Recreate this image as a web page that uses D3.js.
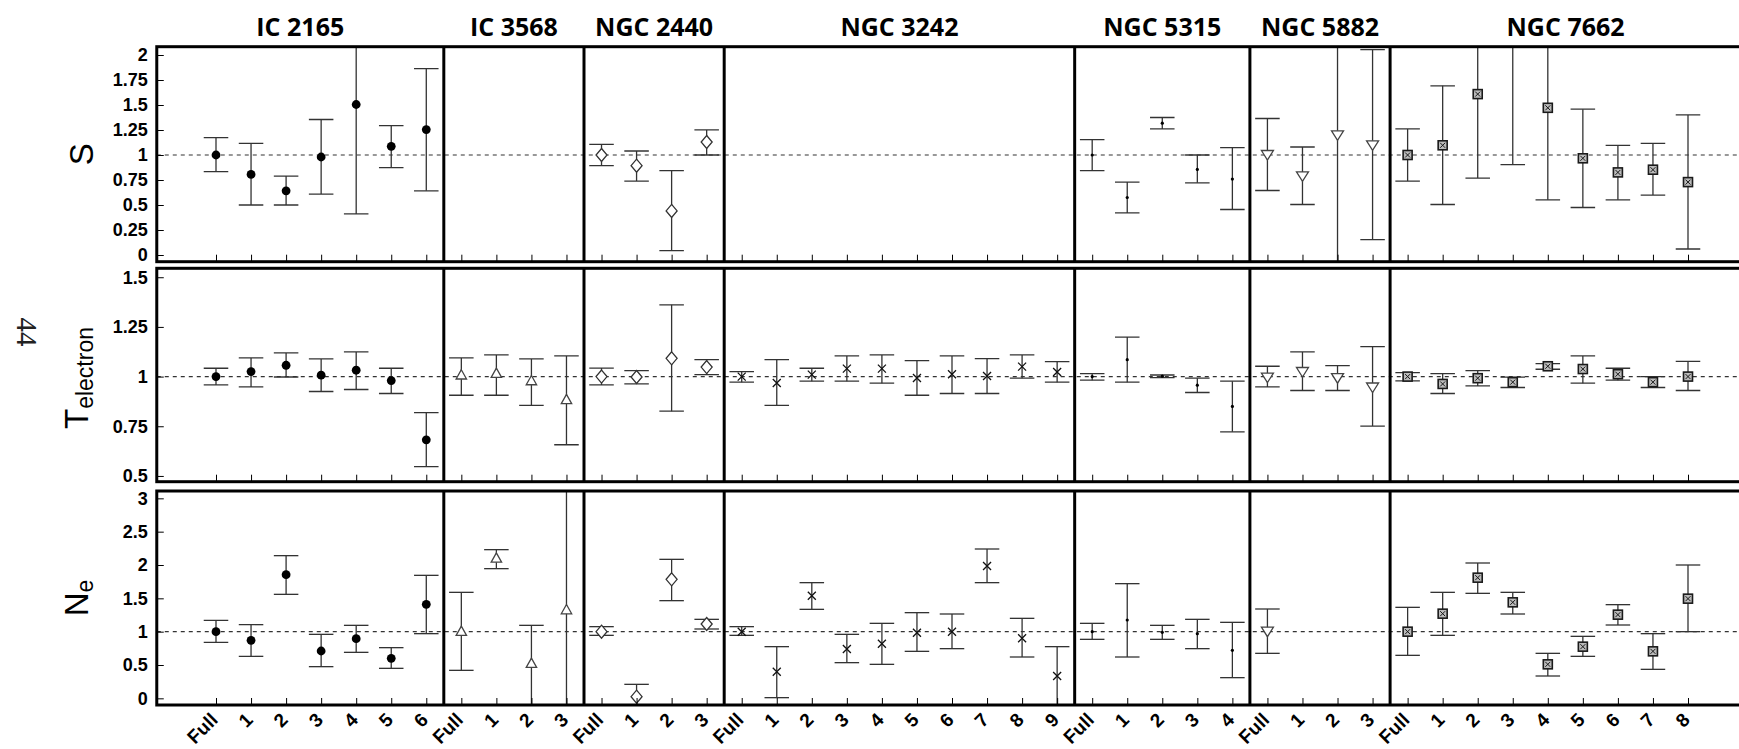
<!DOCTYPE html>
<html>
<head>
<meta charset="utf-8">
<script src="https://cdn.jsdelivr.net/npm/d3@7"></script>
<style>
  body { margin: 0; background: #fff; }
  svg { display: block; }
</style>
</head>
<body>
<div id="chart"></div>
<script>
// nebulae and their segments
var objects = ["IC 2165", "IC 3568", "NGC 2440", "NGC 3242", "NGC 5315", "NGC 5882", "NGC 7662"];
var segments = [
  ["Full", "1", "2", "3", "4", "5", "6"],
  ["Full", "1", "2", "3"],
  ["Full", "1", "2", "3"],
  ["Full", "1", "2", "3", "4", "5", "6", "7", "8", "9"],
  ["Full", "1", "2", "3", "4"],
  ["Full", "1", "2", "3"],
  ["Full", "1", "2", "3", "4", "5", "6", "7", "8"]
];
var markers = ["circle", "triangleUp", "diamond", "cross", "dot", "triangleDown", "boxX"];

// S
var sTicks = [0, 0.25, 0.5, 0.75, 1, 1.25, 1.5, 1.75, 2];
var sVal = [
  [1.0, 0.806, 0.642, 0.98, 1.505, 1.087, 1.254],
  [null, null, null, null],
  [1.0, 0.893, 0.441, 1.13],
  [null, null, null, null, null, null, null, null, null, null],
  [1.0, 0.575, 1.318, 0.856, 0.759],
  [1.0, 0.786, 1.197, 1.097],
  [1.0, 1.097, 1.609, 2.3, 1.472, 0.967, 0.826, 0.853, 0.729]
];
var sLo = [
  [0.833, 0.50, 0.50, 0.609, 0.411, 0.873, 0.642],
  [null, null, null, null],
  [0.893, 0.739, 0.043, 1.0],
  [null, null, null, null, null, null, null, null, null, null],
  [0.843, 0.421, 1.261, 0.722, 0.455],
  [0.645, 0.505, -0.3, 0.154],
  [0.739, 0.505, 0.769, 0.903, 0.552, 0.475, 0.552, 0.599, 0.06]
];
var sHi = [
  [1.174, 1.117, 0.789, 1.355, 2.6, 1.294, 1.863],
  [null, null, null, null],
  [1.107, 1.04, 0.843, 1.251],
  [null, null, null, null, null, null, null, null, null, null],
  [1.154, 0.729, 1.375, 1.0, 1.074],
  [1.365, 1.08, 2.6, 2.053],
  [1.261, 1.692, 2.45, 3.5, 2.4, 1.458, 1.097, 1.117, 1.401]
];

// T electron
var tTicks = [0.5, 0.75, 1, 1.25, 1.5];
var tVal = [
  [1.0, 1.025, 1.057, 1.007, 1.032, 0.98, 0.682],
  [1.007, 1.015, 0.978, 0.883],
  [1.0, 0.998, 1.092, 1.048],
  [1.0, 0.968, 1.01, 1.04, 1.04, 0.993, 1.012, 1.003, 1.05, 1.023],
  [1.0, 1.085, 1.002, 0.957, 0.85],
  [0.995, 1.023, 0.992, 0.945],
  [1.0, 0.963, 0.992, 0.972, 1.052, 1.038, 1.012, 0.972, 1.0]
];
var tLo = [
  [0.958, 0.948, 0.998, 0.925, 0.935, 0.915, 0.547],
  [0.906, 0.906, 0.855, 0.657],
  [0.958, 0.963, 0.826, 1.01],
  [0.972, 0.855, 0.977, 0.977, 0.967, 0.906, 0.915, 0.915, 0.992, 0.972],
  [0.982, 0.972, 0.995, 0.92, 0.722],
  [0.948, 0.93, 0.93, 0.751],
  [0.978, 0.915, 0.953, 0.945, 1.037, 0.967, 0.982, 0.945, 0.93]
];
var tHi = [
  [1.042, 1.094, 1.119, 1.089, 1.124, 1.042, 0.819],
  [1.094, 1.109, 1.089, 1.104],
  [1.043, 1.03, 1.361, 1.085],
  [1.025, 1.085, 1.042, 1.104, 1.109, 1.08, 1.104, 1.09, 1.109, 1.075],
  [1.015, 1.199, 1.008, 0.992, 0.977],
  [1.052, 1.124, 1.055, 1.151],
  [1.02, 1.015, 1.03, 0.997, 1.065, 1.104, 1.042, 1.0, 1.077]
];

// N e
var nTicks = [0, 0.5, 1, 1.5, 2, 2.5, 3];
var nVal = [
  [1.0, 0.87, 1.855, 0.71, 0.895, 0.6, 1.41],
  [1.0, 2.1, 0.52, 1.325],
  [1.0, 0.025, 1.785, 1.115],
  [1.0, 0.4, 1.54, 0.74, 0.82, 0.985, 1.0, 1.985, 0.9, 0.335],
  [1.0, 1.175, 0.99, 0.97, 0.72],
  [1.0, null, null, null],
  [1.0, 1.27, 1.81, 1.44, 0.51, 0.775, 1.255, 0.705, 1.495]
];
var nLo = [
  [0.84, 0.63, 1.56, 0.475, 0.69, 0.45, 0.97],
  [0.42, 1.945, -0.3, -0.3],
  [0.945, -0.3, 1.465, 1.04],
  [0.945, 0.01, 1.335, 0.535, 0.51, 0.705, 0.745, 1.735, 0.62, -0.3],
  [0.885, 0.62, 0.885, 0.745, 0.31],
  [0.675, null, null, null],
  [0.645, 0.945, 1.575, 1.265, 0.335, 0.63, 1.1, 0.435, 1.0]
];
var nHi = [
  [1.17, 1.105, 2.14, 0.96, 1.095, 0.76, 1.845],
  [1.59, 2.23, 1.095, 3.6],
  [1.075, 0.21, 2.085, 1.185],
  [1.075, 0.775, 1.735, 0.96, 1.125, 1.285, 1.265, 2.24, 1.2, 0.775],
  [1.125, 1.72, 1.095, 1.185, 1.14],
  [1.34, null, null, null],
  [1.365, 1.59, 2.03, 1.59, 0.675, 0.93, 1.405, 0.97, 2.0]
];

var width = 1739, height = 749;
var fontSans = "'Liberation Sans', Arial, sans-serif";

var svg = d3.select("#chart").append("svg")
    .attr("width", width).attr("height", height);
svg.append("rect").attr("width", width).attr("height", height).attr("fill", "#fff");

// global category index
var starts = [];
var total = 0;
segments.forEach(function(s) { starts.push(total); total += s.length; });

var x = d3.scaleLinear().domain([0, total - 1]).range([216, 1688]);
var step = x(1) - x(0);
var frameLeft = x(-1.69), frameRight = width + 2;
var capHalf = step * 0.35;

var rows = [
  { name: "S", top: 46.7, bottom: 261.7, domain: [-0.067, 2.083], ticks: sTicks, val: sVal, lo: sLo, hi: sHi },
  { name: "T", sub: "electron", top: 268.3, bottom: 481.7, domain: [0.471, 1.545], ticks: tTicks, val: tVal, lo: tLo, hi: tHi },
  { name: "N", sub: "e", top: 491, bottom: 705, domain: [-0.1, 3.11], ticks: nTicks, val: nVal, lo: nLo, hi: nHi }
];

function drawMarker(g, type, cx, cy) {
  if (type == "circle") {
    g.append("circle").attr("cx", cx).attr("cy", cy).attr("r", 4.4).attr("fill", "#000");
  } else if (type == "dot") {
    g.append("circle").attr("cx", cx).attr("cy", cy).attr("r", 1.6).attr("fill", "#000");
  } else if (type == "triangleUp") {
    g.append("path").attr("d", "M" + cx + "," + (cy - 5.5) + "L" + (cx + 5.2) + "," + (cy + 3.8) + "L" + (cx - 5.2) + "," + (cy + 3.8) + "Z")
      .attr("fill", "#fff").attr("stroke", "#444").attr("stroke-width", 1.3);
  } else if (type == "triangleDown") {
    g.append("path").attr("d", "M" + (cx - 6) + "," + (cy - 4.5) + "L" + (cx + 6) + "," + (cy - 4.5) + "L" + cx + "," + (cy + 5) + "Z")
      .attr("fill", "#fff").attr("stroke", "#444").attr("stroke-width", 1.3);
  } else if (type == "diamond") {
    g.append("path").attr("d", "M" + cx + "," + (cy - 6.5) + "L" + (cx + 5.5) + "," + cy + "L" + cx + "," + (cy + 6.5) + "L" + (cx - 5.5) + "," + cy + "Z")
      .attr("fill", "#fff").attr("stroke", "#333").attr("stroke-width", 1.3);
  } else if (type == "cross") {
    g.append("path").attr("d", "M" + (cx - 4) + "," + (cy - 4) + "L" + (cx + 4) + "," + (cy + 4) + "M" + (cx + 4) + "," + (cy - 4) + "L" + (cx - 4) + "," + (cy + 4))
      .attr("stroke", "#111").attr("stroke-width", 1.3);
  } else if (type == "boxX") {
    g.append("rect").attr("x", cx - 4.5).attr("y", cy - 4.5).attr("width", 9).attr("height", 9)
      .attr("fill", "#bbb").attr("stroke", "#1a1a1a").attr("stroke-width", 1.6);
    g.append("path").attr("d", "M" + (cx - 2.5) + "," + (cy - 2.5) + "L" + (cx + 2.5) + "," + (cy + 2.5) + "M" + (cx + 2.5) + "," + (cy - 2.5) + "L" + (cx - 2.5) + "," + (cy + 2.5))
      .attr("stroke", "#1a1a1a").attr("stroke-width", 1);
  }
}

var dividers = starts.slice(1).map(function(s) { return x(s - 0.5); });

rows.forEach(function(row, ri) {
  var y = d3.scaleLinear().domain(row.domain).range([row.bottom, row.top]);
  var g = svg.append("g");

  svg.append("clipPath").attr("id", "clip" + ri)
    .append("rect").attr("x", frameLeft).attr("y", row.top)
    .attr("width", frameRight - frameLeft).attr("height", row.bottom - row.top);

  var inner = g.append("g").attr("clip-path", "url(#clip" + ri + ")");

  // reference line at 1
  inner.append("line")
    .attr("x1", frameLeft).attr("x2", frameRight)
    .attr("y1", y(1)).attr("y2", y(1))
    .attr("stroke", "#333").attr("stroke-width", 1.2)
    .attr("stroke-dasharray", "4,4");

  objects.forEach(function(obj, oi) {
    segments[oi].forEach(function(seg, si) {
      var v = row.val[oi][si];
      if (v == null) return;
      var cx = x(starts[oi] + si);
      var lo = row.lo[oi][si], hi = row.hi[oi][si];
      var eb = inner.append("g").attr("stroke", "#333").attr("stroke-width", 1.3);
      eb.append("line").attr("x1", cx).attr("x2", cx).attr("y1", y(lo)).attr("y2", y(hi));
      eb.append("line").attr("x1", cx - capHalf).attr("x2", cx + capHalf).attr("y1", y(lo)).attr("y2", y(lo));
      eb.append("line").attr("x1", cx - capHalf).attr("x2", cx + capHalf).attr("y1", y(hi)).attr("y2", y(hi));
      drawMarker(inner, markers[oi], cx, y(v));
    });
  });

  // y axis (ticks pointing inward)
  var yAxis = d3.axisLeft(y).tickValues(row.ticks).tickSizeInner(-7).tickSizeOuter(0).tickPadding(9)
    .tickFormat(function(d) { return String(d); });
  var ya = g.append("g").attr("transform", "translate(" + frameLeft + ",0)").call(yAxis);
  ya.select(".domain").remove();
  ya.selectAll("line").attr("stroke", "#000").attr("stroke-width", 1);
  ya.selectAll("text").attr("font-family", fontSans).attr("font-weight", "bold")
    .attr("font-size", 18).attr("fill", "#000");

  // x ticks
  var xAxis = d3.axisBottom(x).tickValues(d3.range(total)).tickSizeInner(-7).tickSizeOuter(0).tickFormat("");
  var xa = g.append("g").attr("transform", "translate(0," + row.bottom + ")").call(xAxis);
  xa.select(".domain").remove();
  xa.selectAll("line").attr("stroke", "#000").attr("stroke-width", 1);

  // frame and panel dividers
  g.append("rect").attr("x", frameLeft).attr("y", row.top)
    .attr("width", frameRight - frameLeft).attr("height", row.bottom - row.top)
    .attr("fill", "none").attr("stroke", "#000").attr("stroke-width", 3);
  g.selectAll(".divider").data(dividers).enter().append("line")
    .attr("x1", function(d) { return d; }).attr("x2", function(d) { return d; })
    .attr("y1", row.top).attr("y2", row.bottom)
    .attr("stroke", "#000").attr("stroke-width", 3);

  // row label, rotated
  var cy = (row.top + row.bottom) / 2;
  var lab = svg.append("text")
    .attr("transform", "translate(" + (row.sub ? 88 : 93) + "," + (cy + (ri == 1 ? 3 : 0)) + ") rotate(-90)")
    .attr("text-anchor", "middle")
    .attr("font-family", fontSans).attr("font-size", 33).attr("fill", "#000");
  lab.append("tspan").text(row.name);
  if (row.sub) {
    lab.append("tspan").attr("font-size", 23).attr("dy", 5).text(row.sub);
  }
});

// panel titles
objects.forEach(function(obj, oi) {
  var l = oi == 0 ? frameLeft : x(starts[oi] - 0.5);
  var r = oi == objects.length - 1 ? frameRight : x(starts[oi] + segments[oi].length - 0.5);
  svg.append("text")
    .attr("x", (l + r) / 2).attr("y", 36)
    .attr("text-anchor", "middle")
    .attr("font-family", "'Open Sans', 'Noto Sans', sans-serif")
    .attr("font-weight", "bold").attr("font-size", 25).attr("fill", "#000")
    .text(obj);
});

// segment labels under the bottom row
objects.forEach(function(obj, oi) {
  segments[oi].forEach(function(seg, si) {
    var cx = x(starts[oi] + si);
    svg.append("text")
      .attr("transform", "translate(" + (cx + 3) + ",721) rotate(-45)")
      .attr("text-anchor", "end")
      .attr("font-family", fontSans).attr("font-weight", "bold")
      .attr("font-size", 19).attr("fill", "#000")
      .text(seg);
  });
});

// page number in the margin
svg.append("text")
  .attr("transform", "translate(17,332) rotate(90)")
  .attr("text-anchor", "middle")
  .attr("font-family", "'Liberation Serif', serif")
  .attr("font-size", 29).attr("fill", "#222")
  .text("44");
</script>
</body>
</html>
